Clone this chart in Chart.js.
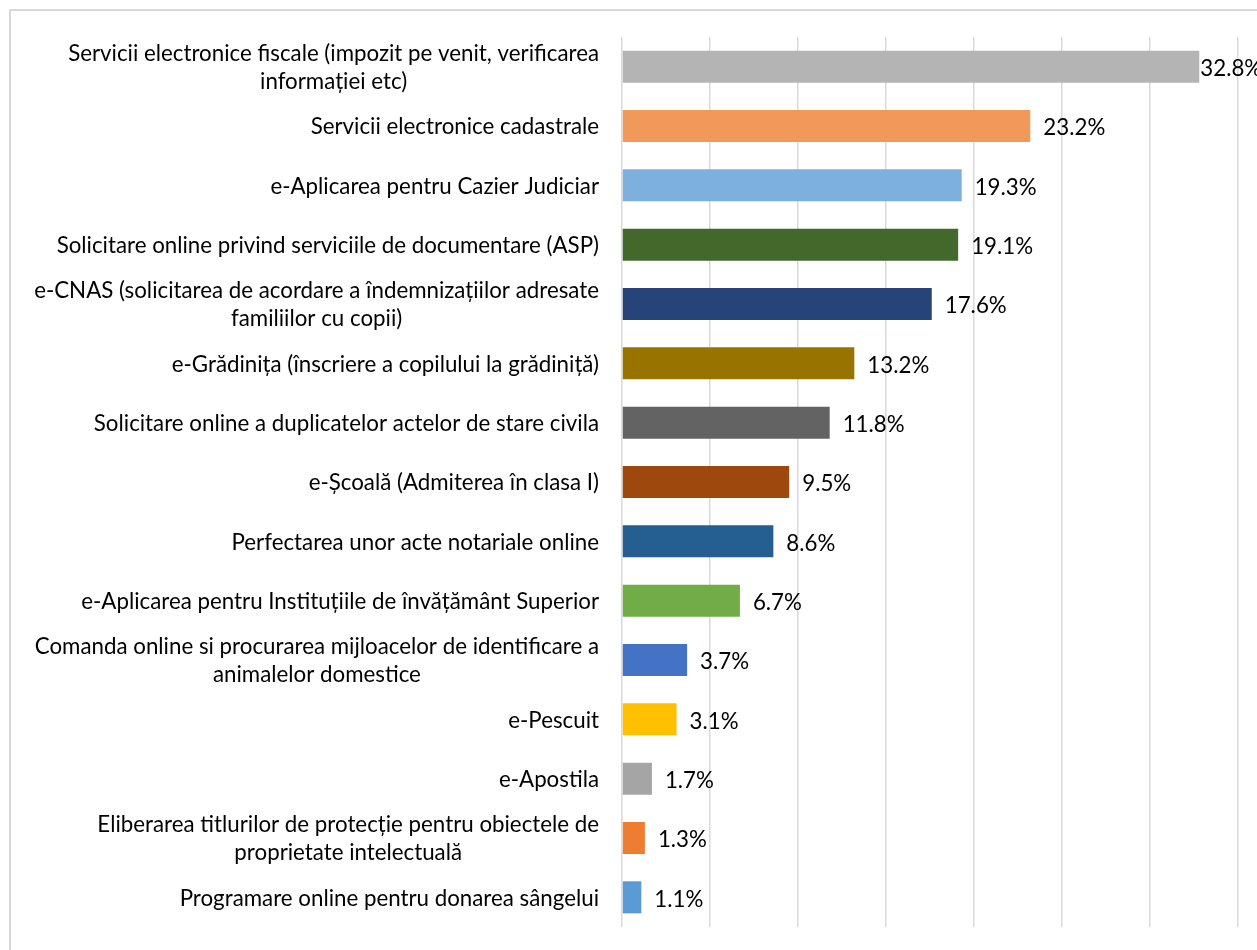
<!DOCTYPE html>
<html>
<head>
<meta charset="utf-8">
<script src="https://cdn.jsdelivr.net/npm/chart.js@4"></script>
<style>
  html, body { margin: 0; padding: 0; background: #fff; overflow: hidden; }
  #wrap { position: relative; width: 1257px; height: 950px; }
  #frame { position: absolute; left: 9px; top: 9px; width: 1400px; height: 1100px; border: 2px solid #d9d9d9; box-sizing: border-box; }
  #chart { position: absolute; left: 0; top: 0; }
</style>
</head>
<body>
<div id="wrap">
  <div id="frame"></div>
  <canvas id="chart" width="1257" height="950"></canvas>
</div>
<script>
// categories (multi-line ones split into lines)
const categories = [
  ['Servicii electronice fiscale (impozit pe venit, verificarea', 'informației etc)'],
  ['Servicii electronice cadastrale'],
  ['e-Aplicarea pentru Cazier Judiciar'],
  ['Solicitare online privind serviciile de documentare (ASP)'],
  ['e-CNAS (solicitarea de acordare a îndemnizațiilor adresate', 'familiilor cu copii)'],
  ['e-Grădinița (înscriere a copilului la grădiniță)'],
  ['Solicitare online a duplicatelor actelor de stare civila'],
  ['e-Școală (Admiterea în clasa I)'],
  ['Perfectarea unor acte notariale online'],
  ['e-Aplicarea pentru Instituțiile de învățământ Superior'],
  ['Comanda online si procurarea mijloacelor de identificare a', 'animalelor domestice'],
  ['e-Pescuit'],
  ['e-Apostila'],
  ['Eliberarea titlurilor de protecție pentru obiectele de', 'proprietate intelectuală'],
  ['Programare online pentru donarea sângelui']
];
const values = [32.8, 23.2, 19.3, 19.1, 17.6, 13.2, 11.8, 9.5, 8.6, 6.7, 3.7, 3.1, 1.7, 1.3, 1.1];
const barColors = [
  '#b4b4b4', '#f0995a', '#7eb0de', '#43682b', '#264478',
  '#997300', '#636363', '#9e480e', '#255e91', '#70ad47',
  '#4472c4', '#ffc000', '#a5a5a5', '#ed7d31', '#5b9bd5'
];
const axisMax = 35;
const axisStep = 5;

const FONT = '22.3px Lato';

// draws the category labels (Excel style: block right aligned, lines centred)
// and the value labels at the end of each bar
const labelPlugin = {
  id: 'labels',
  afterDatasetsDraw(chart) {
    const ctx = chart.ctx;
    const yScale = chart.scales.y;
    ctx.save();
    ctx.font = FONT;
    ctx.fillStyle = '#000';
    ctx.textBaseline = 'middle';
    ctx.textAlign = 'center';
    const lineH = 28;
    categories.forEach((lines, i) => {
      const cy = yScale.getPixelForValue(i) + 1;
      const w = Math.max(...lines.map(l => ctx.measureText(l).width));
      const cx = yScale.right - 23 - w / 2;
      lines.forEach((l, j) => {
        ctx.fillText(l, cx, cy + (j - (lines.length - 1) / 2) * lineH);
      });
    });

    ctx.textAlign = 'left';
    const meta = chart.getDatasetMeta(0);
    meta.data.forEach((bar, i) => {
      const txt = values[i].toFixed(1) + '%';
      const w = ctx.measureText(txt).width;
      // keep the label inside the canvas, but never on top of the bar
      let x = Math.min(bar.x + 13, chart.width - w);
      x = Math.max(x, bar.x + 1);
      ctx.fillText(txt, x, bar.y + 2);
    });
    ctx.restore();
  }
};

document.fonts.load(FONT).then(function () {
  const ctx = document.getElementById('chart').getContext('2d');
  new Chart(ctx, {
    type: 'bar',
    data: {
      labels: categories,
      datasets: [{
        data: values,
        backgroundColor: barColors,
        barPercentage: 0.9,
        categoryPercentage: 0.6
      }]
    },
    options: {
      indexAxis: 'y',
      responsive: false,
      animation: false,
      devicePixelRatio: 1,
      layout: { padding: { top: 37, right: 19, bottom: 23, left: 0 } },
      plugins: { legend: { display: false }, tooltip: { enabled: false } },
      scales: {
        x: {
          min: 0,
          max: axisMax,
          ticks: { stepSize: axisStep, display: false },
          grid: { color: '#d9d9d9', lineWidth: 1.5, drawTicks: false },
          border: { display: false },
          afterFit: s => { s.height = 0; }
        },
        y: {
          ticks: { display: false },
          grid: { display: false },
          border: { display: false },
          afterFit: s => { s.width = 622; }
        }
      }
    },
    plugins: [labelPlugin]
  });
});
</script>
</body>
</html>
